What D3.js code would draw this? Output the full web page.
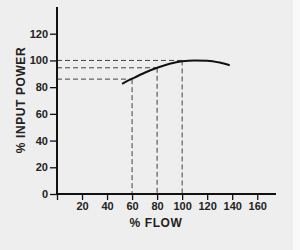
<!DOCTYPE html>
<meta charset="utf-8">
<head>
  <title>% Input Power vs % Flow</title>
</head>
<style>
body {
  margin: 0;
  background: #f9f9f9;
}
svg {
  display: block;
}
.axis path, .axis line {
  stroke: #111;
}
.axis text {
  font-family: "Liberation Sans", Arial, sans-serif;
  font-weight: bold;
  font-size: 11px;
  fill: #222;
}
.label {
  font-family: "Liberation Sans", Arial, sans-serif;
  font-weight: bold;
  font-size: 12px;
  letter-spacing: 0.6px;
  fill: #222;
}
</style>
<body>
<div id="chart"></div>
<script src="https://cdnjs.cloudflare.com/ajax/libs/d3/7.8.5/d3.min.js"></script>
<script>
// curve: % flow vs % input power
var flow  = [52, 60, 70, 80, 90, 100, 110, 120, 130, 138]
var power = [82.5, 86.3, 90.8, 94.5, 97.5, 99.4, 100, 99.8, 98.4, 96.4]

// dashed guide lines (flow -> power read-off)
var guideFlow  = [60, 80, 100]
var guidePower = [86, 94.5, 100]

var xTicks = [20, 40, 60, 80, 100, 120, 140, 160]
var yTicks = [0, 20, 40, 60, 80, 100, 120]

var width = 300, height = 250
var svg = d3.select("#chart").append("svg")
  .attr("width", width)
  .attr("height", height)

// gray paper background with a lighter strip on the right
svg.append("rect").attr("width", 293).attr("height", height).attr("fill", "#eeeeee")

var x = d3.scaleLinear().domain([0, 175]).range([57, 276])
var y = d3.scaleLinear().domain([0, 140]).range([194, 7])

// dashed guides
var guides = svg.append("g")
  .attr("stroke", "#444")
  .attr("stroke-width", 1)
  .attr("stroke-dasharray", "5,3")
guideFlow.forEach(function(f, i) {
  guides.append("line")
    .attr("x1", x(0)).attr("x2", x(f))
    .attr("y1", y(guidePower[i])).attr("y2", y(guidePower[i]))
  guides.append("line")
    .attr("x1", x(f)).attr("x2", x(f))
    .attr("y1", y(guidePower[i])).attr("y2", y(0))
})

// axes
var xAxis = svg.append("g")
  .attr("class", "axis")
  .attr("transform", "translate(0," + y(0) + ")")
  .call(d3.axisBottom(x).tickValues([0].concat(xTicks)).tickSize(6).tickPadding(2)
    .tickFormat(function(d) { return d === 0 ? "" : d }))
xAxis.select(".domain").attr("d", "M" + x(0) + ",0H" + x(175)).attr("stroke-width", 2)
xAxis.selectAll(".tick line").attr("stroke-width", 1.3)

var yAxis = svg.append("g")
  .attr("class", "axis")
  .attr("transform", "translate(" + x(0) + ",0)")
  .call(d3.axisLeft(y).tickValues(yTicks).tickSize(7).tickPadding(2))
yAxis.select(".domain").attr("d", "M0," + y(140) + "V" + y(0)).attr("stroke-width", 2)
yAxis.selectAll(".tick line").attr("stroke-width", 1.3)

// curve
var line = d3.line()
  .x(function(d, i) { return x(flow[i]) })
  .y(function(d, i) { return y(power[i]) })
  .curve(d3.curveMonotoneX)
svg.append("path")
  .datum(flow)
  .attr("d", line)
  .attr("fill", "none")
  .attr("stroke", "#111")
  .attr("stroke-width", 2)

// axis titles
svg.append("text")
  .attr("class", "label")
  .attr("x", 156).attr("y", 227)
  .attr("text-anchor", "middle")
  .text("% FLOW")
svg.append("text")
  .attr("class", "label")
  .attr("transform", "translate(25,100) rotate(-90)")
  .attr("text-anchor", "middle")
  .text("% INPUT POWER")
</script>
</body>
</html>
